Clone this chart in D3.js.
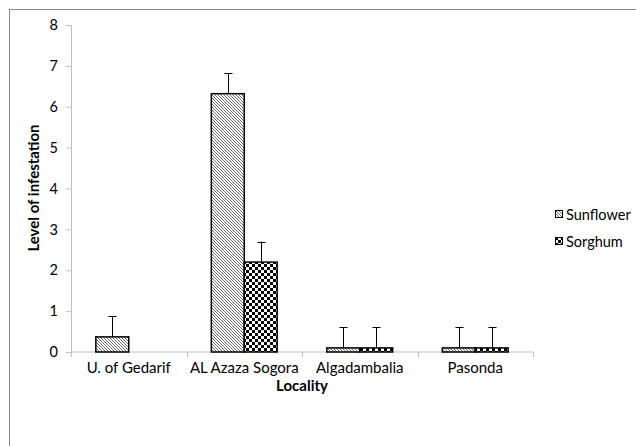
<!DOCTYPE html>
<html><head><meta charset="utf-8">
<script src="https://cdn.jsdelivr.net/npm/d3@7"></script>
<style>body{margin:0;background:#fff}svg{display:block}text{font-family:Lato,"Open Sans",sans-serif;fill:#000}</style>
</head><body>
<svg id="c" width="636" height="446"></svg>
<script>
const categories = ["U. of Gedarif", "AL Azaza Sogora", "Algadambalia", "Pasonda"];
const seriesNames = ["Sunflower", "Sorghum"];
const sunflower = [0.37, 6.32, 0.1, 0.1];
const sorghum = [0, 2.2, 0.1, 0.1];
const sunflowerErr = [0.5, 0.5, 0.5, 0.5];
const sorghumErr = [null, 0.5, 0.5, 0.5];
const yTicks = [0, 1, 2, 3, 4, 5, 6, 7, 8];

(function(){
const svg = d3.select("#c");
const defs = svg.append("defs");
const p1 = defs.append("pattern").attr("id","diag").attr("patternUnits","userSpaceOnUse").attr("width",3).attr("height",3);
p1.append("rect").attr("width",3).attr("height",3).attr("fill","#fff");
p1.append("path").attr("d","M-1,-1 L4,4 M-1,2 L1,4 M2,-1 L4,1").attr("stroke","#6a6a6a").attr("stroke-width",1);
const p2 = defs.append("pattern").attr("id","check").attr("patternUnits","userSpaceOnUse").attr("width",6).attr("height",6);
p2.append("rect").attr("width",6).attr("height",6).attr("fill","#fff");
p2.append("rect").attr("width",3).attr("height",3).attr("fill","#000");
p2.append("rect").attr("x",3).attr("y",3).attr("width",3).attr("height",3).attr("fill","#000");
const fills = ["url(#diag)", "url(#check)"];

// chart border
svg.append("rect").attr("x",9.5).attr("y",9.5).attr("width",700).attr("height",500)
  .attr("fill","none").attr("stroke","#8c8c8c").attr("stroke-width",1);

const pl = 71, pr = 533, pt = 25, pb = 352;
const x = d3.scaleBand().domain(categories).range([pl, pr]).paddingInner(0.43).paddingOuter(0.215);
const xs = d3.scaleBand().domain(seriesNames).range([0, x.bandwidth()]);
const y = d3.scaleLinear().domain([0, 8]).range([pb, pt]);

// y axis
const ya = svg.append("g").attr("transform",`translate(${pl},0)`)
  .call(d3.axisLeft(y).tickValues(yTicks).tickSize(5).tickPadding(8).tickFormat(d3.format("d")));
ya.select(".domain").attr("stroke","#bfbfbf");
ya.selectAll(".tick line").attr("stroke","#bfbfbf");
ya.selectAll("text").attr("font-size",14.5).style("font-family","Lato, sans-serif");

// x axis
const xa = svg.append("g").attr("transform",`translate(0,${pb})`);
xa.append("line").attr("x1",pl).attr("x2",pr).attr("stroke","#bfbfbf");
const bounds = d3.range(categories.length + 1).map(i => pl + i * (pr-pl)/categories.length);
xa.selectAll("line.tk").data(bounds).join("line").attr("class","tk")
  .attr("x1",d=>Math.round(d)+0.5).attr("x2",d=>Math.round(d)+0.5).attr("y1",0).attr("y2",5).attr("stroke","#bfbfbf");
xa.selectAll("text").data(categories).join("text")
  .attr("x",d=>x(d)+x.bandwidth()/2).attr("y",21).attr("text-anchor","middle").attr("font-size",15).text(d=>d);

// bars
const data = [sunflower, sorghum];
const errs = [sunflowerErr, sorghumErr];
data.forEach((vals, si) => {
  const pts = categories.map((c,i)=>({c, v: vals[i], e: errs[si][i]})).filter(d => d.v > 0);
  svg.append("g").selectAll("rect").data(pts).join("rect")
    .attr("x", d => x(d.c) + xs(seriesNames[si]))
    .attr("y", d => y(d.v))
    .attr("width", xs.bandwidth())
    .attr("height", d => pb - y(d.v))
    .attr("fill", fills[si]).attr("stroke","#000").attr("stroke-width",1.5);
  const eg = svg.append("g");
  pts.forEach(d => {
    if (d.e == null) return;
    const cx = Math.round(x(d.c) + xs(seriesNames[si]) + xs.bandwidth()/2) + 0.5;
    const y0 = y(d.v), y1 = y(d.v + d.e);
    eg.append("line").attr("x1",cx).attr("x2",cx).attr("y1",y0).attr("y2",y1).attr("stroke","#000");
    eg.append("line").attr("x1",cx-4).attr("x2",cx+4).attr("y1",Math.round(y1)+0.5).attr("y2",Math.round(y1)+0.5).attr("stroke","#000");
  });
});

// axis titles
svg.append("text").attr("transform","translate(39,188) rotate(-90)").attr("text-anchor","middle")
  .attr("font-size",15).attr("font-weight","bold").text("Level of infestation");
svg.append("text").attr("x",302).attr("y",391).attr("text-anchor","middle")
  .attr("font-size",15).attr("font-weight","bold").text("Locality");

// legend
const lg = svg.append("g");
seriesNames.forEach((s,i) => {
  const ly = 215 + i*27;
  lg.append("rect").attr("x",555.5).attr("y",ly-4.5).attr("width",7).attr("height",7)
    .attr("fill",fills[i]).attr("stroke","#000").attr("stroke-width",1);
  lg.append("text").attr("x",566).attr("y",ly+5).attr("font-size",14.5).text(s);
});
})();
</script>
</body></html>
